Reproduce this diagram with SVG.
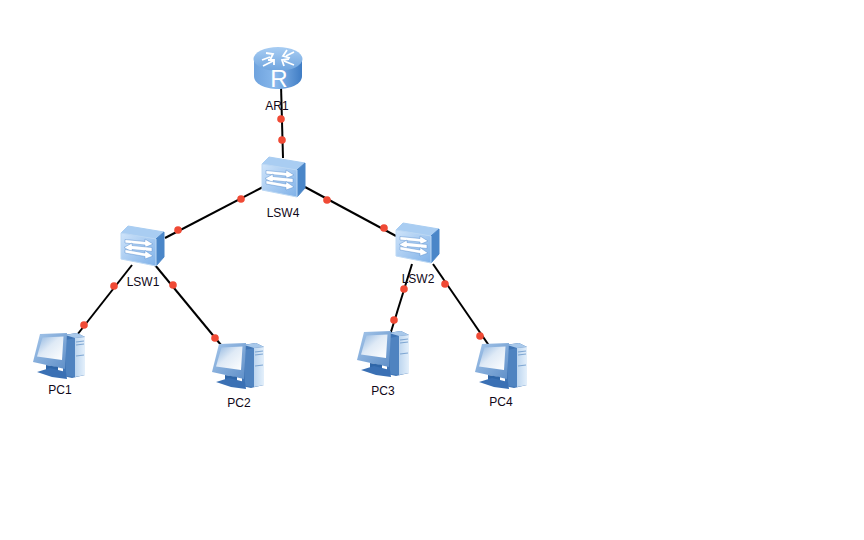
<svg xmlns="http://www.w3.org/2000/svg" width="864" height="540" viewBox="0 0 864 540">
  <style>
    .bg { fill: #ffffff; }
    .link { stroke: #000000; stroke-width: 2; fill: none; }
    .port { fill: #f04a35; }
    .label { font-family: "Liberation Sans", Arial, sans-serif; font-size: 12px; fill: #100818; text-anchor: middle; }
  </style>
  <defs>
    <linearGradient id="routerTop" x1="0" y1="0" x2="0" y2="1">
      <stop offset="0" stop-color="#a8cdf3"/>
      <stop offset="1" stop-color="#6fa4de"/>
    </linearGradient>
    <linearGradient id="routerBody" x1="0" y1="0" x2="1" y2="0">
      <stop offset="0" stop-color="#6fa3de"/>
      <stop offset="0.45" stop-color="#88b8ec"/>
      <stop offset="1" stop-color="#3f7cc4"/>
    </linearGradient>
    <linearGradient id="switchFront" x1="0" y1="0" x2="1" y2="1">
      <stop offset="0" stop-color="#cfe4fa"/>
      <stop offset="1" stop-color="#7fb1e8"/>
    </linearGradient>
    <linearGradient id="pcTower" x1="0" y1="0" x2="1" y2="0">
      <stop offset="0" stop-color="#bcd5ef"/>
      <stop offset="1" stop-color="#e4f0fb"/>
    </linearGradient>
    <linearGradient id="pcScreen" x1="0" y1="0" x2="1" y2="1">
      <stop offset="0" stop-color="#8fb5df"/>
      <stop offset="0.45" stop-color="#dfeaf6"/>
      <stop offset="1" stop-color="#ffffff"/>
    </linearGradient>
    <linearGradient id="pcFrame" x1="0" y1="0" x2="1" y2="1">
      <stop offset="0" stop-color="#a5c6ea"/>
      <stop offset="1" stop-color="#5f8fc8"/>
    </linearGradient>
    <g id="switchIcon">
      <path d="M262 164 L269 157 L305 163 L297 170 Z" fill="#a9cdf2" stroke="#a9cdf2" stroke-linejoin="round"/>
      <path d="M297 170 L305 163 L305 188 L297 197 Z" fill="#4a86c8" stroke="#4a86c8" stroke-linejoin="round"/>
      <path d="M262 164 L297 170 L297 197 L262 190 Z" fill="url(#switchFront)" stroke="#bcd8f4" stroke-linejoin="round"/>
      <g fill="#ffffff" stroke="#5f93d0" stroke-width="0.500">
        <path d="M266 170.500 L286 172.500 L286 170 L294 175 L286 178.500 L286 176 L266 174 Z"/>
        <path d="M293 178.500 L273 176.500 L273 174 L265 178.500 L273 183 L273 180.500 L293 182.500 Z"/>
        <path d="M266 180.500 L286 184 L286 181.500 L294 187 L286 190 L286 187.500 L266 184 Z"/>
      </g>
    </g>
    <g id="pcIcon">
      <path d="M63 335 L77 333 L85 337 L85 375 L72 378 L63 376 Z" fill="#3f74b4"/>
      <path d="M65 335 L77 333 L85 337 L75 338 Z" fill="#a8c8ea"/>
      <path d="M75 338 L85 337 L85 375 L75 377 Z" fill="url(#pcTower)"/>
      <path d="M76 342 L84 341 M76 345 L84 344 M76 356 L84 355" stroke="#7ea6d2" stroke-width="1.200"/>
      <path d="M66 340 L75 338 L75 377 L66 376 Z" fill="#4f83c0"/>
      <path d="M40 334 L67 333 L65 369 L33 362 Z" fill="url(#pcFrame)"/>
      <path d="M42.500 337.500 L63.500 336.500 L62 360 L37 356.500 Z" fill="url(#pcScreen)"/>
      <path d="M46 365 L58 367 L58 372 L46 370 Z" fill="#2f66a8"/>
      <path d="M37 372 L50 368 L66 372 L67 379 L52 377 Z" fill="#3a70b4"/>
    </g>
  </defs>

  <rect class="bg" x="0" y="0" width="864" height="540"/>

  <g id="connectors">
    <path class="link" d="M281 85 L283 158"/>
    <path class="link" d="M263 187 L165 238"/>
    <path class="link" d="M305 187 L396 236"/>
    <path class="link" d="M132 265 L77 335"/>
    <path class="link" d="M155 265 L221 345"/>
    <path class="link" d="M412 264 L390 335"/>
    <path class="link" d="M433 264 L490 347"/>
  </g>

  <g id="AR1">
    <path d="M254 60 L254 76 C254 84 265 89 278 89 C291 89 302 84 302 76 L302 60 Z" fill="url(#routerBody)"/>
    <ellipse cx="278" cy="59" rx="24.500" ry="12" fill="url(#routerTop)"/>
    <g fill="none" stroke="#ffffff" stroke-width="1.800">
      <path d="M262 60 L270 57 M266 53 L273 54 L270 60"/>
      <path d="M294 52 L286 56 M287 50 L283 56 L290 58"/>
      <path d="M263 66 L273 61 M268 60 L274 60 L274 65"/>
      <path d="M294 65 L284 61 M289 59 L282 60 L284 66"/>
    </g>
    <text x="279" y="87" font-family="'Liberation Sans', Arial, sans-serif" font-size="24" fill="#ffffff" text-anchor="middle">R</text>
    <text class="label" x="277" y="110">AR1</text>
  </g>

  <g id="LSW4">
    <use href="#switchIcon"/>
    <text class="label" x="283" y="217">LSW4</text>
  </g>
  <g id="LSW1">
    <use href="#switchIcon" x="-141" y="69"/>
    <text class="label" x="143" y="286">LSW1</text>
  </g>
  <g id="LSW2">
    <use href="#switchIcon" x="134" y="66"/>
    <text class="label" x="418" y="283">LSW2</text>
  </g>

  <g id="PC1">
    <use href="#pcIcon"/>
    <text class="label" x="60" y="394">PC1</text>
  </g>
  <g id="PC2">
    <use href="#pcIcon" x="179" y="10"/>
    <text class="label" x="239" y="407">PC2</text>
  </g>
  <g id="PC3">
    <use href="#pcIcon" x="324" y="-2"/>
    <text class="label" x="383" y="395">PC3</text>
  </g>
  <g id="PC4">
    <use href="#pcIcon" x="442" y="10"/>
    <text class="label" x="501" y="406">PC4</text>
  </g>

  <g id="ports">
    <circle class="port" cx="281" cy="119" r="3.800"/>
    <circle class="port" cx="282" cy="140" r="3.800"/>
    <circle class="port" cx="241" cy="199" r="3.800"/>
    <circle class="port" cx="178" cy="230" r="3.800"/>
    <circle class="port" cx="327" cy="200" r="3.800"/>
    <circle class="port" cx="384" cy="228" r="3.800"/>
    <circle class="port" cx="114" cy="286" r="3.800"/>
    <circle class="port" cx="84" cy="325" r="3.800"/>
    <circle class="port" cx="173" cy="285" r="3.800"/>
    <circle class="port" cx="215" cy="338" r="3.800"/>
    <circle class="port" cx="404" cy="289" r="3.800"/>
    <circle class="port" cx="394" cy="320" r="3.800"/>
    <circle class="port" cx="445" cy="284" r="3.800"/>
    <circle class="port" cx="480" cy="336" r="3.800"/>
  </g>
</svg>
